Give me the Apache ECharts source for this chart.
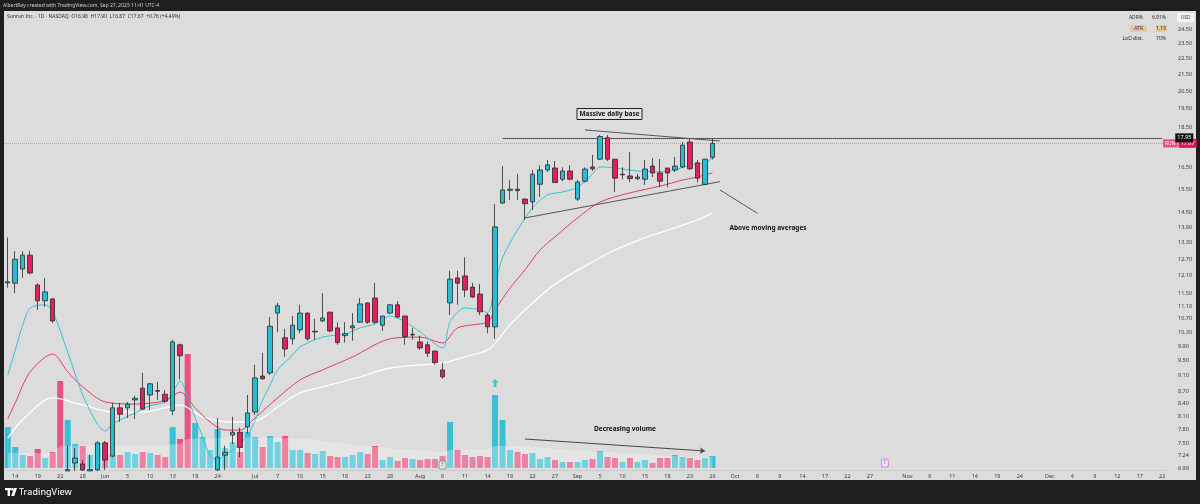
<!DOCTYPE html>
<html><head><meta charset="utf-8">
<script src="https://cdn.jsdelivr.net/npm/echarts@6/dist/echarts.min.js"></script>
<style>html,body{margin:0;padding:0;background:#1e1e1e;}#c{width:1200px;height:504px;}</style>
</head><body><div id="c"></div>
<script>
// ---- calendar (trading days) ----
const startDate = '2025-05-13', endDate = '2025-12-22';
const holidays = ['2025-05-26','2025-06-19','2025-07-04','2025-09-01','2025-11-27'];
function tradingDays(s, e, hol){
  const out = []; const d = new Date(s + 'T12:00:00Z'); const end = new Date(e + 'T12:00:00Z');
  while (d <= end) { const wd = d.getUTCDay(); const k = d.toISOString().slice(0,10);
    if (wd !== 0 && wd !== 6 && hol.indexOf(k) < 0) out.push(k); d.setUTCDate(d.getUTCDate() + 1); }
  return out;
}
const dates = tradingDays(startDate, endDate, holidays);

// ---- x tick labels ----
const tickDates = ['2025-05-14','2025-05-19','2025-05-22','2025-05-28','2025-06-02','2025-06-05','2025-06-10','2025-06-13','2025-06-18','2025-06-24','2025-07-01','2025-07-07','2025-07-10','2025-07-15','2025-07-18','2025-07-23','2025-07-28','2025-08-01','2025-08-06','2025-08-11','2025-08-14','2025-08-19','2025-08-22','2025-08-27','2025-09-02','2025-09-05','2025-09-10','2025-09-15','2025-09-18','2025-09-23','2025-09-26','2025-10-01','2025-10-06','2025-10-09','2025-10-14','2025-10-17','2025-10-22','2025-10-27','2025-11-03','2025-11-06','2025-11-11','2025-11-14','2025-11-19','2025-11-24','2025-12-01','2025-12-04','2025-12-09','2025-12-12','2025-12-17','2025-12-22'];
const tickTexts = ['14','19','22','28','Jun','5','10','13','18','24','Jul','7','10','15','18','23','28','Aug','6','11','14','19','22','27','Sep','5','10','15','18','23','26','Oct','6','9','14','17','22','27','Nov','6','11','14','19','24','Dec','4','9','12','17','22'];

// ---- price axis tick labels ----
const priceTicks = [24.5,23.5,22.5,21.5,20.5,19.5,18.5,16.5,15.5,14.5,13.9,13.3,12.7,12.1,11.5,11.1,10.7,10.3,9.9,9.5,9.1,8.7,8.4,8.1,7.8,7.5,7.24,6.99];

// ---- OHLC (daily, from May 13 2025); bars that sit below the visible range are rough estimates ----
const opens  = [11.86,11.85,12.34,12.84,11.79,11.27,11.33,6.88,6.93,7.09,7.07,6.93,6.95,7.51,7.23,8.30,8.30,8.49,8.78,8.61,8.72,8.63,8.23,9.94,6.88,5.80,5.60,5.90,6.95,7.25,7.68,7.74,7.86,8.20,9.09,9.17,10.88,10.14,10.11,10.37,10.88,10.31,10.64,10.91,10.43,10.20,10.43,10.60,11.20,11.36,10.51,10.88,11.14,10.79,10.22,10.02,9.94,9.76,9.25,11.20,12.03,12.10,11.72,11.49,10.82,10.46,14.90,15.45,15.50,15.07,14.95,15.72,16.38,16.47,15.95,16.33,15.07,15.86,16.52,16.89,17.96,16.89,16.15,16.10,15.98,15.95,16.56,16.24,16.47,16.38,16.52,17.74,16.72,15.72,16.98];
const closes = [11.90,12.69,12.84,12.20,11.27,11.56,10.64,6.75,6.96,7.19,6.95,6.96,7.51,7.15,8.30,8.15,8.39,8.53,8.27,8.89,8.70,8.46,10.02,9.63,6.40,6.00,5.80,6.20,7.21,7.31,7.74,7.41,8.18,9.04,9.02,10.48,11.11,9.82,10.51,10.88,10.11,10.33,10.73,10.34,10.00,10.26,10.49,11.17,10.60,10.60,10.79,11.14,10.76,10.17,10.24,9.85,9.70,9.44,9.07,11.99,11.85,11.62,11.39,10.92,10.46,13.92,15.47,15.50,15.44,14.87,16.18,16.38,16.62,15.80,16.33,15.95,15.82,16.42,16.43,18.02,16.89,16.00,16.18,15.98,16.05,16.42,16.24,15.86,16.24,16.56,17.58,16.43,16.00,16.89,17.67];
const lows   = [11.70,11.52,12.03,12.15,10.98,11.08,10.58,6.50,6.93,6.93,6.93,6.93,6.93,6.95,7.21,7.97,8.06,8.04,8.25,8.25,8.49,8.42,8.13,9.00,6.20,5.60,5.40,5.80,6.93,6.95,7.48,7.21,7.71,8.13,8.99,9.12,10.30,9.60,9.94,10.27,10.05,10.08,10.60,10.30,9.94,10.00,10.05,10.58,10.55,10.55,10.34,10.85,10.72,9.94,10.08,9.79,9.60,9.39,9.02,10.82,11.14,11.39,11.36,10.82,10.27,10.11,14.87,15.04,15.04,14.20,14.61,15.16,16.28,15.78,15.85,15.90,14.99,15.80,16.33,16.85,16.80,15.38,15.95,15.82,15.90,15.70,16.05,15.59,15.59,16.28,16.47,16.38,15.80,15.68,16.87];
const highs  = [13.50,12.99,12.99,13.00,11.85,12.03,11.35,6.90,7.45,7.40,7.15,7.26,7.55,7.55,8.42,8.42,8.44,8.59,9.17,8.90,8.94,8.73,10.08,9.97,6.90,6.30,6.10,6.50,8.06,7.45,8.09,7.84,8.61,9.39,9.71,10.76,11.20,10.40,10.79,11.14,10.90,10.70,11.52,10.92,10.60,10.60,10.88,11.36,11.22,11.86,10.80,11.17,11.26,10.80,10.43,10.20,10.03,9.77,9.44,12.28,12.28,12.76,11.86,11.82,10.88,14.86,16.56,15.90,16.20,15.10,16.38,16.60,16.85,16.80,16.50,16.60,15.91,16.50,17.10,18.10,18.10,16.90,16.50,17.24,16.20,16.85,16.95,16.90,16.47,17.00,17.74,17.90,16.85,16.90,17.90];
// ---- volume (millions, approx.) ----
const volumes = [4.1,2.1,1.3,1.2,1.9,1.0,1.6,8.7,4.8,2.4,2.2,1.3,2.5,1.3,1.3,1.3,1.6,1.4,1.6,1.5,1.3,1.1,4.1,2.9,11.4,4.5,3.1,1.8,3.9,2.0,2.6,1.6,3.6,3.1,2.1,3.2,2.6,3.2,1.8,1.8,1.5,1.4,1.7,1.2,1.1,1.1,1.3,1.6,1.4,2.2,0.8,1.1,0.7,1.0,0.9,0.8,0.9,0.9,1.2,4.6,1.8,1.3,1.1,1.2,1.1,7.3,4.8,1.8,1.6,1.4,1.5,0.9,1.1,0.8,0.6,0.6,0.6,0.8,0.9,1.7,1.1,1.0,0.6,1.0,0.6,0.8,0.5,1.0,1.0,1.3,1.1,1.0,0.8,1.0,1.2];
// ---- moving averages: [barIndex, value] ----
const ema10 = [[0,9.12],[1,9.79],[2,10.52],[3,11.04],[5,11.14],[6,10.92],[8,9.73],[10,8.61],[12,7.91],[13,7.77],[14,7.93],[17,8.18],[19,8.35],[21,8.44],[22,8.68],[23,8.96],[24,8.54],[25,8.06],[26,7.64],[27,7.23],[28,7.15],[29,7.26],[30,7.36],[32,7.68],[33,8.02],[34,8.49],[35,8.86],[36,9.25],[38,9.65],[39,9.88],[42,10.16],[45,10.25],[47,10.43],[49,10.55],[51,10.79],[53,10.61],[55,10.31],[58,9.85],[59,10.61],[61,11.04],[63,10.98],[64,10.89],[65,11.79],[66,12.74],[68,13.80],[70,14.69],[72,15.25],[74,15.38],[76,15.59],[78,16.19],[79,16.52],[81,16.47],[84,16.33],[87,16.29],[89,16.38],[91,16.61],[93,16.71],[94,16.95]];
const ema21 = [[0,8.04],[1,8.42],[3,9.20],[6,9.68],[8,9.20],[10,8.81],[13,8.44],[17,8.39],[21,8.47],[23,8.68],[25,8.30],[27,7.97],[29,7.79],[31,7.79],[33,8.07],[36,8.54],[39,8.99],[42,9.25],[46,9.60],[51,10.11],[55,10.16],[58,9.99],[60,10.43],[64,10.61],[65,10.98],[67,11.69],[69,12.31],[71,13.03],[73,13.53],[76,14.28],[79,14.94],[83,15.34],[87,15.64],[90,15.91],[92,16.05],[94,16.24]];
const sma50 = [[0,7.61],[2,8.02],[6,8.54],[10,8.37],[14,8.20],[18,8.20],[21,8.30],[23,8.37],[26,8.09],[30,7.97],[33,7.99],[36,8.32],[39,8.66],[43,8.86],[47,9.07],[51,9.30],[58,9.44],[61,9.60],[64,9.79],[65,9.97],[67,10.52],[70,11.20],[73,11.82],[77,12.45],[81,13.03],[85,13.49],[89,13.88],[92,14.20],[94,14.49]];
const volMA = [[0,1.5],[6,1.5],[7,2.2],[12,2.3],[20,2.3],[23,2.4],[24,2.9],[27,3.0],[31,3.1],[36,3.0],[40,2.9],[44,2.5],[48,2.2],[52,1.9],[56,1.7],[58,1.6],[59,1.8],[64,1.9],[65,2.2],[68,2.2],[72,2.0],[76,1.7],[80,1.6],[84,1.4],[88,1.2],[94,1.1]];
// ---- drawings (in data coords) ----
const lastClose = 17.67, resistance = 17.95;
const resistanceFrom = 66;
const descLine = [[77,18.36],[95,17.79]];
const ascLine = [[69,14.28],[95,15.84]];
const pointerLine = [[95,15.47],[100,14.47]];
const volArrow = [[69,2.9],[93,1.7]];
const earningsPast = [[58,0.3]], earningsNext = [[117,0.5]];
const volSpike = [[65,8.5]];

const UP = '#27bdd2', DOWN = '#e0215e', VUP = '#3bbfd4', VDOWN = '#e8507f';
const FONT = '"Noto Sans", "Liberation Sans", sans-serif';

const candles = opens.map((o,i)=>[o, closes[i], lows[i], highs[i]]);
const volData = volumes.map((v,i)=>({value:v, itemStyle:{color: closes[i] >= opens[i] ? VUP : VDOWN}}));
const tickMap = {}; tickDates.forEach((d,i)=>tickMap[d]=tickTexts[i]);

const chart = echarts.init(document.getElementById('c'), null, {renderer:'canvas'});
const T = (x,y,text,opt) => Object.assign({type:'text', x:x, y:y, silent:true, style:Object.assign({text:text, fill:'#2a2a2a', font:'5px '+FONT, align:'left', verticalAlign:'middle', textAlign:'left', textVerticalAlign:'middle'}, opt||{})});

chart.setOption({
  animation:false,
  backgroundColor:'#1e1e1e',
  grid:[
    {left:4, right:34, top:12, bottom:34},
    {left:4, right:34, top:340, bottom:36}
  ],
  xAxis:[
    {type:'category', gridIndex:0, data:dates, boundaryGap:true,
     axisLine:{show:true, lineStyle:{color:'#cdcdcd', width:1}}, axisTick:{show:false}, splitLine:{show:false},
     axisLabel:{interval:(i,v)=>tickMap[v]!==undefined, formatter:v=>tickMap[v]||'', fontSize:5.5, color:'#3a3a3a', margin:3, fontFamily:FONT}},
    {type:'category', gridIndex:1, data:dates, boundaryGap:true, show:false}
  ],
  yAxis:[
    {type:'log', gridIndex:0, position:'right', min:6.949, max:25.72, logBase:10,
     axisLine:{show:false}, axisTick:{show:false}, splitLine:{show:false},
     axisLabel:{customValues:priceTicks, formatter:v=>Number(v).toFixed(2), fontSize:5.5, color:'#3a3a3a', margin:12, fontFamily:FONT}},
    {type:'value', gridIndex:1, min:0, max:12.8, show:false, splitLine:{show:false}}
  ],
  series:[
    {type:'bar', name:'Volume', xAxisIndex:1, yAxisIndex:1, data:volData, barWidth:6, z:2,
     markLine:{silent:true, symbol:['none','arrow'], symbolSize:5, lineStyle:{color:'#444', width:1, type:'solid'}, label:{show:false},
       data:[[{coord:volArrow[0]},{coord:volArrow[1]}]]}},
    {type:'line', name:'Vol MA', xAxisIndex:1, yAxisIndex:1, data:volMA, symbol:'none', z:3,
     lineStyle:{width:0}, areaStyle:{color:'rgba(255,255,255,0.4)'}},
    {type:'line', name:'SMA50', data:sma50, symbol:'none', smooth:0.3, connectNulls:true, z:4, lineStyle:{color:'#ffffff', width:1.3}},
    {type:'line', name:'EMA21', data:ema21, symbol:'none', smooth:0.3, connectNulls:true, z:4, lineStyle:{color:'#e23c68', width:1}},
    {type:'line', name:'EMA10', data:ema10, symbol:'none', smooth:0.3, connectNulls:true, z:4, lineStyle:{color:'#35c3d6', width:1}},
    {type:'candlestick', name:'RUN', data:candles, barWidth:5, z:5, clip:true,
     itemStyle:{color:UP, color0:DOWN, borderColor:'#2a2a2a', borderColor0:'#2a2a2a', borderWidth:0.8},
     markLine:{silent:true, symbol:'none', animation:false,
       data:[
         {yAxis:lastClose, lineStyle:{color:'rgba(232,73,122,0.55)', type:'dotted', width:1},
          label:{show:true, position:'end', distance:-3, formatter:'{a|RUN}{g| }{b|'+lastClose.toFixed(2)+'}',
            rich:{a:{backgroundColor:'#ea4a80', color:'#fff', fontSize:5, padding:[1.5,2], fontFamily:FONT},
                  g:{fontSize:2, width:1},
                  b:{backgroundColor:'#e2185c', color:'#fff', fontSize:5.5, padding:[1.5,2], fontFamily:FONT}}}},
         [{coord:[resistanceFrom,resistance], lineStyle:{color:'#555', width:1, type:'solid'},
           label:{show:true, position:'end', distance:13, formatter:resistance.toFixed(2), backgroundColor:'#111', color:'#fff', fontSize:5.5, padding:[1.5,2], fontFamily:FONT}},
          {coord:[dates.length-1,resistance]}],
         [{coord:descLine[0], lineStyle:{color:'#555', width:1, type:'solid'}, label:{show:false}},{coord:descLine[1]}],
         [{coord:ascLine[0], lineStyle:{color:'#555', width:1, type:'solid'}, label:{show:false}},{coord:ascLine[1]}],
         [{coord:pointerLine[0], lineStyle:{color:'#555', width:1, type:'solid'}, label:{show:false}},{coord:pointerLine[1]}]
       ]}},
    {type:'scatter', xAxisIndex:1, yAxisIndex:1, data:volSpike, z:10,
     symbol:'path://M4,0 L8,4 L5.6,4 L5.6,9 L2.4,9 L2.4,4 L0,4 Z', symbolSize:[7,8], itemStyle:{color:'#2bbcd3'}},
    {type:'scatter', xAxisIndex:1, yAxisIndex:1, data:earningsPast, z:10, symbol:'roundRect', symbolSize:[7,8],
     itemStyle:{color:'#eef7f4', borderColor:'#3a9e8c', borderWidth:1},
     label:{show:true, position:'inside', formatter:'E', fontSize:5, color:'#3a9e8c', fontFamily:FONT}},
    {type:'scatter', xAxisIndex:1, yAxisIndex:1, data:earningsNext, z:10, symbol:'roundRect', symbolSize:[7,8],
     itemStyle:{color:'#f6e4fa', borderColor:'#c86be0', borderWidth:1},
     label:{show:true, position:'inside', formatter:'E', fontSize:5, color:'#c86be0', fontFamily:FONT}}
  ],
  graphic:[
    {type:'rect', z:-10, silent:true, shape:{x:4, y:11, width:1192, height:469}, style:{fill:'#dcdcdc'}},
    T(3, 5.5, 'AlbertRay created with TradingView.com, Sep 27, 2025 11:41 UTC-4', {fill:'#cfcfcf'}),
    T(7, 16.5, 'Sunrun Inc. · 1D · NASDAQ  O16.98  H17.90  L16.87  C17.67  +0.76 (+4.49%)'),
    {type:'rect', silent:true, shape:{x:1130, y:25, width:17, height:7}, style:{fill:'rgba(242,176,92,0.45)'}},
    {type:'rect', silent:true, shape:{x:1156, y:25, width:11, height:7}, style:{fill:'rgba(242,176,92,0.45)'}},
    T(1143, 17.5, 'ADR%', {align:'right', textAlign:'right'}),
    T(1166, 17.5, '6.91%', {align:'right', textAlign:'right'}),
    T(1143, 28.5, 'ATR', {align:'right', textAlign:'right'}),
    T(1166, 28.5, '1.15', {align:'right', textAlign:'right'}),
    T(1143, 38.5, 'LoD dist.', {align:'right', textAlign:'right'}),
    T(1166, 38.5, '70%', {align:'right', textAlign:'right'}),
    {type:'rect', silent:true, shape:{x:1177, y:13, width:17, height:9}, style:{fill:'#f4f4f4'}},
    T(1185.5, 17.5, 'USD', {align:'center', textAlign:'center', fill:'#333'}),
    {type:'rect', silent:true, shape:{x:577, y:108.5, width:65, height:11}, style:{fill:'#e2e2e2', stroke:'#222', lineWidth:1}},
    T(609.5, 114, 'Massive daily base', {align:'center', textAlign:'center', fill:'#111', font:'bold 6.5px '+FONT}),
    T(768, 228, 'Above moving averages', {align:'center', textAlign:'center', fill:'#111', font:'bold 6.5px '+FONT}),
    T(625, 429.5, 'Decreasing volume', {align:'center', textAlign:'center', fill:'#111', font:'bold 6.5px '+FONT}),
    {type:'rect', silent:true, shape:{x:5, y:488, width:6, height:2.2}, style:{fill:'#fff'}},
    {type:'rect', silent:true, shape:{x:7.6, y:488, width:2.4, height:8}, style:{fill:'#fff'}},
    {type:'circle', silent:true, shape:{cx:12.3, cy:489.3, r:1.3}, style:{fill:'#fff'}},
    {type:'polygon', silent:true, shape:{points:[[14,488],[17,488],[14.2,496],[11.2,496]]}, style:{fill:'#fff'}},
    T(19, 492, 'TradingView', {fill:'#f0f0f0', font:'500 9px '+FONT})
  ]
});
</script></body></html>
